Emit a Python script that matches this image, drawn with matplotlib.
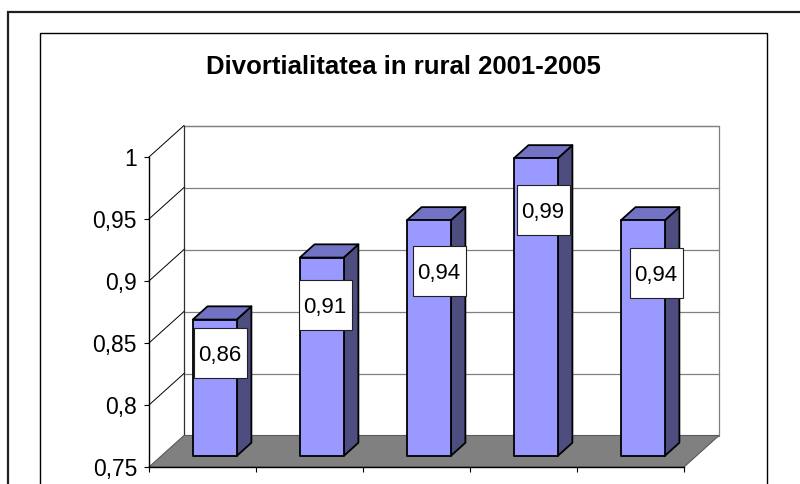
import matplotlib
matplotlib.use("Agg")
import matplotlib.pyplot as plt
import numpy as np
from matplotlib.patches import Polygon, Rectangle
from matplotlib.transforms import IdentityTransform

plt.rcParams['font.family'] = ['Liberation Sans', 'DejaVu Sans']

# data
years = ["2001", "2002", "2003", "2004", "2005"]
values = [0.86, 0.91, 0.94, 0.99, 0.94]
value_labels = ["0,86", "0,91", "0,94", "0,99", "0,94"]
y_ticks = [0.75, 0.8, 0.85, 0.9, 0.95, 1.0]
y_tick_labels = ["0,75", "0,8", "0,85", "0,9", "0,95", "1"]
title = "Divortialitatea in rural 2001-2005"

W, H = 800, 484
fig = plt.figure(figsize=(W / 100, H / 100), dpi=100)

# front plane of the 3d box
ax = fig.add_axes([149 / W, (H - 467) / H, 535 / W, 310 / H])
ax.set_xlim(0, len(years))
ax.set_ylim(0.75, 1.0)
ax.patch.set_visible(False)
for s in ["top", "right"]:
    ax.spines[s].set_visible(False)
ax.spines["left"].set_linewidth(1.0)
ax.spines["bottom"].set_linewidth(1.0)
ax.spines["left"].set_zorder(6)
ax.spines["bottom"].set_zorder(6)
ax.set_yticks(y_ticks, y_tick_labels)
ax.set_xticks(np.arange(len(years) + 1), [""] * (len(years) + 1))
ax.tick_params(axis="y", direction="out", length=3.6, width=0.8, pad=5, labelsize=16.5)
ax.tick_params(axis="x", direction="out", length=3.6, width=0.8)

# depth vector (pixels) from front plane to back wall
DX, DY = 35, 31.5
ident = IdentityTransform()


def proj(x, y, d):
    px, py = ax.transData.transform((x, y))
    return (px + d * DX, py + d * DY)


def poly(pts, **kw):
    p = Polygon(pts, closed=True, transform=ident, clip_on=False, **kw)
    ax.add_patch(p)
    return p


y0, y1 = y_ticks[0], y_ticks[-1]
n = len(years)

# back wall
poly([proj(0, y0, 1), proj(n, y0, 1), proj(n, y1, 1), proj(0, y1, 1)],
     facecolor="white", edgecolor="#808080", lw=0.9, zorder=1)
for v in y_ticks[1:]:
    a, b = proj(0, v, 1), proj(n, v, 1)
    ax.plot([a[0], b[0]], [a[1], b[1]], color="#808080", lw=0.9,
            transform=ident, clip_on=False, zorder=1.5)
a, b = proj(0, y0, 1), proj(0, y1, 1)
ax.plot([a[0], b[0]], [a[1], b[1]], color="#303030", lw=0.8,
        transform=ident, clip_on=False, zorder=1.6)

# side wall diagonals
for v in y_ticks[1:]:
    a, b = proj(0, v, 0), proj(0, v, 1)
    ax.plot([a[0], b[0]], [a[1], b[1]], color="black", lw=0.7,
            transform=ident, clip_on=False, zorder=1.6)

# floor
poly([proj(0, y0, 0), proj(n, y0, 0), proj(n, y0, 1), proj(0, y0, 1)],
     facecolor="#808080", edgecolor="#5a5a5a", lw=0.8, zorder=2)

# bars
bw = 0.41
df, db = 0.35, 0.77
front_c, top_c, side_c = "#9999FF", "#7373C6", "#4D4D80"
for i, v in enumerate(values):
    x0, x1 = i + 0.5 - bw / 2, i + 0.5 + bw / 2
    poly([proj(x1, y0, df), proj(x1, y0, db), proj(x1, v, db), proj(x1, v, df)],
         facecolor=side_c, edgecolor="black", lw=1.3, joinstyle="round", zorder=3)
    poly([proj(x0, v, df), proj(x1, v, df), proj(x1, v, db), proj(x0, v, db)],
         facecolor=top_c, edgecolor="black", lw=1.3, joinstyle="round", zorder=3)
    poly([proj(x0, y0, df), proj(x1, y0, df), proj(x1, v, df), proj(x0, v, df)],
         facecolor=front_c, edgecolor="black", lw=1.3, joinstyle="round", zorder=3.1)

# data label boxes (offsets in pixels from the bar top at the front plane)
label_dx = [17.5, 15.5, 22.5, 19.5, 25.5]
label_dy = [-22, -36, -40, -41, -42]
box_w, box_h = 53, 50
for i, v in enumerate(values):
    cx, cy = proj(i + 0.5, v, 0)
    cx += label_dx[i]
    cy += label_dy[i]
    ax.add_patch(Rectangle((cx - box_w / 2, cy - box_h / 2), box_w, box_h,
                           facecolor="white", edgecolor="#202020", lw=0.8,
                           transform=ident, clip_on=False, zorder=4))
    ax.text(cx, cy, value_labels[i], transform=ident, ha="center",
            va="center_baseline", fontsize=16, zorder=5)

# title
fig.text(403.5 / W, 1 - 74 / H, title, ha="center", va="baseline",
         fontsize=18.5, fontweight="bold")

# chart frames
fig.add_artist(Rectangle((40 / W, -10 / H), (767 - 40) / W, (H - 33 + 10) / H,
                         transform=fig.transFigure, fill=False,
                         edgecolor="black", lw=1.0))
fig.add_artist(Rectangle((8 / W, -10 / H), (820 - 8) / W, (H - 12 + 10) / H,
                         transform=fig.transFigure, fill=False,
                         edgecolor="#202020", lw=1.6))

fig.savefig("out.png", dpi=100)
